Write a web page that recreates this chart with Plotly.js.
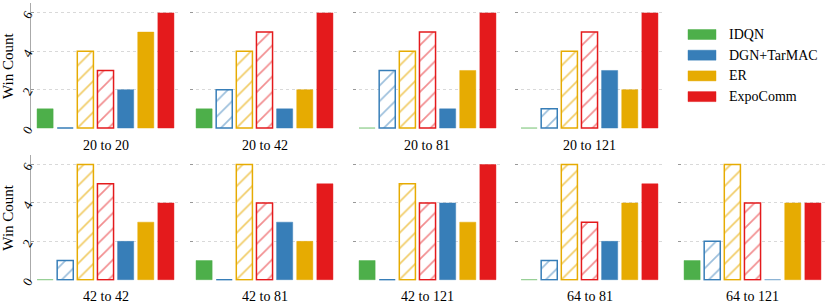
<!DOCTYPE html>
<html>
<head>
<meta charset="utf-8">
<script src="https://cdn.plot.ly/plotly-3.0.1.min.js"></script>
<style>html,body{margin:0;padding:0;background:#fff;}#chart{width:830px;height:307px;}</style>
</head>
<body>
<div id="chart"></div>
<script>
// ---- data ----
const categories = ['20 to 20','20 to 42','20 to 81','20 to 121','42 to 42','42 to 81','42 to 121','64 to 81','64 to 121'];
const idqn       = [1,1,0,0,0,1,1,0,1];
const dgnHatched = [0,2,3,1,1,0,0,1,2];
const erHatched  = [4,4,4,4,6,6,5,6,6];
const expoHatched= [3,5,5,5,5,4,4,3,4];
const dgn        = [2,1,1,3,2,3,4,2,0];
const er         = [5,2,3,2,3,2,3,4,4];
const expo       = [6,6,6,6,4,5,6,5,4];
const legendNames = ['IDQN','DGN+TarMAC','ER','ExpoComm'];
const yTicks = [0,2,4,6];

// ---- styles ----
const C = {g:'#4daf4a', b:'#377eb8', y:'#e6ab02', r:'#e41a1c'};
const CL = {g:'rgba(77,175,74,0.45)', b:'rgba(55,126,184,0.45)', y:'rgba(230,171,2,0.45)', r:'rgba(228,26,28,0.45)'};
const CH = {b:'#9cbfdc', y:'#f1cc66', r:'#f28e90'};
const W = 830, H = 307;
const FONT = "'Liberation Serif', 'DejaVu Serif', serif";
const colStart = [31,190,353,515,678];
const colW = 149;
const rows = [{top:3.3, bottom:129}, {top:155, bottom:280.7}];
const place = [[0,0],[0,1],[0,2],[0,3],[1,0],[1,1],[1,2],[1,3],[1,4]];

const px = v => v / W;
const py = v => 1 - v / H;

const data = [];
const layout = {
  width: W, height: H,
  margin: {l:0, r:0, t:0, b:0},
  paper_bgcolor: '#fff', plot_bgcolor: '#fff',
  showlegend: false, barmode: 'overlay',
  font: {family: FONT, color: '#000'},
  annotations: [], shapes: []
};

categories.forEach((cat, i) => {
  const [row, col] = place[i];
  const n = i + 1;
  const xa = 'xaxis' + (n === 1 ? '' : n), ya = 'yaxis' + (n === 1 ? '' : n);
  const xr = 'x' + (n === 1 ? '' : n), yr = 'y' + (n === 1 ? '' : n);
  // solid bars
  data.push({
    type: 'bar', xaxis: xr, yaxis: yr,
    x: [0,4,5,6], y: [idqn[i], dgn[i], er[i], expo[i]], width: 0.8,
    hoverinfo: 'y',
    marker: {
      color: [C.g, C.b, C.y, C.r],
      line: {color: [CL.g, CL.b, CL.y, CL.r], width: 1}
    }
  });
  // hatched bars
  data.push({
    type: 'bar', xaxis: xr, yaxis: yr,
    x: [1,2,3], y: [dgnHatched[i], erHatched[i], expoHatched[i]], width: 0.8,
    hoverinfo: 'y',
    marker: {
      color: '#ffffff',
      line: {color: [C.b, C.y, C.r], width: 1.5},
      pattern: {
        shape: '/',
        fillmode: 'overlay',
        bgcolor: '#ffffff',
        fgcolor: [CH.b, CH.y, CH.r],
        fgopacity: 1,
        size: 11, solidity: 0.15
      }
    }
  });
  const x0 = colStart[col], x1 = colStart[col] + colW;
  layout[xa] = {
    domain: [px(x0), px(x1)], anchor: yr, range: [-0.7, 6.7],
    showticklabels: false, ticks: '', showgrid: false, zeroline: false, showline: false, fixedrange: true
  };
  layout[ya] = {
    domain: [py(rows[row].bottom), py(rows[row].top)], anchor: xr, range: [-0.05, 6.5],
    tickvals: yTicks, ticktext: yTicks.map(String),
    showticklabels: col === 0, tickangle: -60,
    tickfont: {family: FONT, size: 13, color: '#000'},
    ticks: 'inside', ticklen: 3, tickcolor: '#999',
    showgrid: true, gridcolor: '#d9d9d9', griddash: 'dot', gridwidth: 1,
    zeroline: false, showline: col === 0, linecolor: '#aaa', linewidth: 1,
    fixedrange: true
  };
  if (col === 0) {
    layout[ya].title = {text: 'Win Count', font: {family: FONT, size: 15, color: '#000'}, standoff: 4};
  }
  layout.annotations.push({
    xref: 'paper', yref: 'paper', x: px((x0 + x1) / 2), y: py(rows[row].bottom + 16),
    text: cat, showarrow: false, xanchor: 'center', yanchor: 'middle',
    font: {family: FONT, size: 14, color: '#000'}
  });
});

// legend (drawn manually)
const legColors = [C.g, C.b, C.y, C.r];
const legLine = [CL.g, CL.b, CL.y, CL.r];
legendNames.forEach((name, k) => {
  const cy = 34.5 + k * 20.7;
  layout.shapes.push({
    type: 'rect', xref: 'paper', yref: 'paper',
    x0: px(688), x1: px(716), y0: py(cy + 5), y1: py(cy - 5),
    fillcolor: legColors[k], line: {color: legLine[k], width: 1}
  });
  layout.annotations.push({
    xref: 'paper', yref: 'paper', x: px(727), y: py(cy),
    text: name, showarrow: false, xanchor: 'left', yanchor: 'middle',
    font: {family: FONT, size: 14, color: '#000'}
  });
});

Plotly.newPlot('chart', data, layout, {displayModeBar: false, staticPlot: true});
</script>
</body>
</html>
